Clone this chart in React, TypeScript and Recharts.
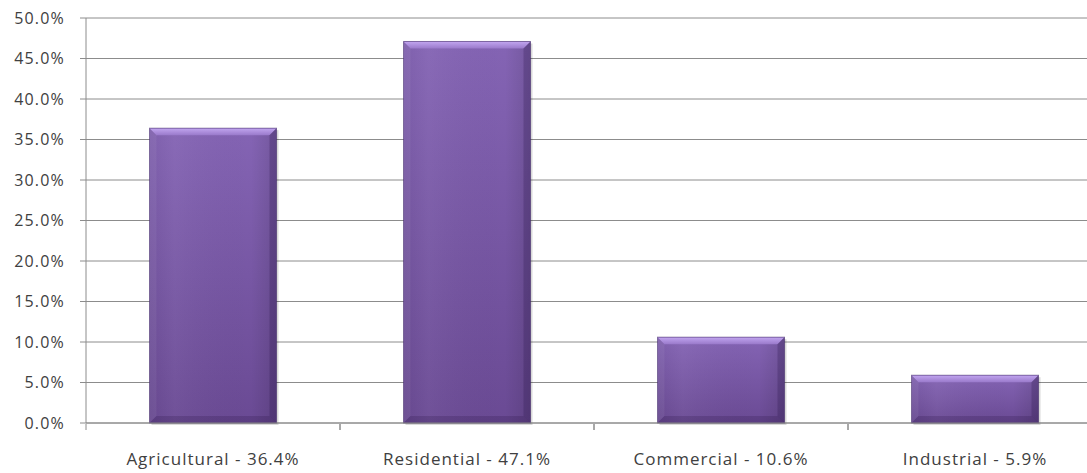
import { BarChart, Bar, XAxis, YAxis, CartesianGrid } from 'recharts';

const categories = ['Agricultural - 36.4%', 'Residential - 47.1%', 'Commercial - 10.6%', 'Industrial - 5.9%'];
const shares = [36.4, 47.1, 10.6, 5.9];
const yTicks = [0, 5, 10, 15, 20, 25, 30, 35, 40, 45, 50];

const data = categories.map((name, i) => ({ name, share: shares[i] }));

const FONT = '"Open Sans", "DejaVu Sans", sans-serif';
const TEXT = '#404040';
const GRID = '#8c8c8c';
const HALF_BAND = 127;

function BevelBar(props: any) {
    const { x, y, width, height } = props;
    if (!height || height <= 0) return null;
    const b = Math.min(7, height / 3);
    return (
        <g>
            <rect x={x + 2} y={y + 2} width={width} height={height} fill="rgba(0,0,0,0.15)" />
            <rect x={x} y={y} width={width} height={height} fill="url(#barV)" />
            <rect x={x} y={y} width={width} height={height} fill="url(#barH)" />
            <polygon points={`${x},${y} ${x + width},${y} ${x + width - b},${y + b} ${x + b},${y + b}`} fill="url(#bevelTop)" />
            <polygon points={`${x},${y} ${x + b},${y + b} ${x + b},${y + height - b} ${x},${y + height}`} fill="rgba(255,255,255,0.06)" />
            <polygon points={`${x + width},${y} ${x + width},${y + height} ${x + width - b},${y + height - b} ${x + width - b},${y + b}`} fill="rgba(40,20,70,0.25)" />
            <polygon points={`${x},${y + height} ${x + width},${y + height} ${x + width - b},${y + height - b} ${x + b},${y + height - b}`} fill="rgba(40,20,70,0.22)" />
            <rect x={x} y={y} width={width} height={height} fill="none" stroke="rgba(60,35,100,0.5)" strokeWidth={1} />
        </g>
    );
}

function CategoryTick(props: any) {
    const { x, y, payload } = props;
    return (
        <g>
            <line x1={x - HALF_BAND} y1={y - 7} x2={x - HALF_BAND} y2={y - 1} stroke={GRID} />
            <line x1={x + HALF_BAND} y1={y - 7} x2={x + HALF_BAND} y2={y - 1} stroke={GRID} />
            <text x={x} y={y + 34} textAnchor="middle" fill={TEXT} fontSize={17} letterSpacing={1} fontFamily={FONT}>
                {payload.value}
            </text>
        </g>
    );
}

export default function App() {
    return (
        <div style={{ position: 'absolute', left: 0, top: 0, width: 1087, height: 473, overflow: 'hidden', background: '#fff', fontFamily: FONT }}>
            <BarChart width={1110} height={473} data={data} margin={{ top: 18, right: 8, bottom: 0, left: 0 }} barCategoryGap="25%">
                <defs>
                    <linearGradient id="barV" x1="0" y1="0" x2="0" y2="1">
                        <stop offset="0%" stopColor="#8464b4" />
                        <stop offset="100%" stopColor="#6a4a94" />
                    </linearGradient>
                    <linearGradient id="barH" x1="0" y1="0" x2="1" y2="0">
                        <stop offset="0%" stopColor="#000" stopOpacity={0.04} />
                        <stop offset="20%" stopColor="#fff" stopOpacity={0.04} />
                        <stop offset="80%" stopColor="#000" stopOpacity={0} />
                        <stop offset="100%" stopColor="#000" stopOpacity={0.12} />
                    </linearGradient>
                    <linearGradient id="bevelTop" x1="0" y1="0" x2="0" y2="1">
                        <stop offset="0%" stopColor="#c2a6f0" />
                        <stop offset="100%" stopColor="#9a7acb" />
                    </linearGradient>
                </defs>
                <CartesianGrid horizontal vertical={false} stroke={GRID} strokeWidth={1} />
                <XAxis
                    dataKey="name"
                    axisLine={{ stroke: GRID }}
                    tickLine={false}
                    height={50}
                    interval={0}
                    tick={<CategoryTick />}
                />
                <YAxis
                    domain={[0, 50]}
                    ticks={yTicks}
                    interval={0}
                    width={86}
                    axisLine={{ stroke: GRID }}
                    tickLine={{ stroke: GRID }}
                    tickSize={6}
                    tickMargin={15}
                    tickFormatter={(v: number) => `${v.toFixed(1)}%`}
                    tick={{ fill: TEXT, fontSize: 16, letterSpacing: 1.2, fontFamily: FONT }}
                />
                <Bar dataKey="share" isAnimationActive={false} shape={<BevelBar />} />
            </BarChart>
        </div>
    );
}
